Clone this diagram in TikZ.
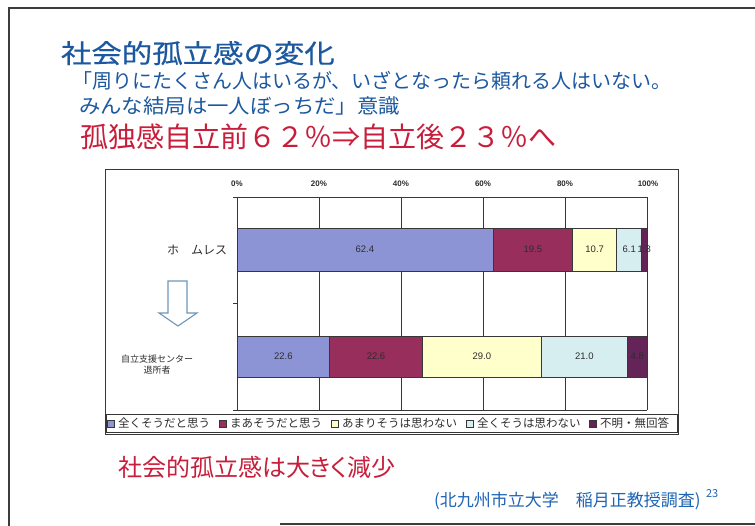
\documentclass[tikz,border=0pt]{standalone}
\usepackage{fontspec}
\setmainfont{Liberation Sans}
\newfontfamily\jp[RawFeature=+palt]{Noto Sans CJK JP}
\newfontfamily\jpfw{Noto Sans CJK JP}
\newfontfamily\jpwide[FakeStretch=1.07]{Noto Sans CJK JP}
\newfontfamily\jptitle[FakeStretch=1.17,FakeBold=0.4]{Noto Sans CJK JP}
\definecolor{tblue}{RGB}{28,88,160}
\definecolor{cblue}{RGB}{30,100,180}
\definecolor{tred}{RGB}{200,30,60}
\definecolor{cA}{RGB}{140,148,214}
\definecolor{cB}{RGB}{152,46,92}
\definecolor{cC}{RGB}{255,255,204}
\definecolor{cD}{RGB}{214,238,240}
\definecolor{cE}{RGB}{100,36,88}
\definecolor{gridc}{RGB}{55,55,55}
\definecolor{framec}{RGB}{60,60,60}
\definecolor{arrowc}{RGB}{110,150,185}
\definecolor{labc}{RGB}{45,45,45}
\tikzset{
  seg/.style={draw=gridc, line width=0.6pt},
  gridline/.style={draw=gridc, line width=0.7pt},
  vallab/.style={font=\fontsize{9.5}{10}\selectfont, text=labc},
  axlab/.style={font=\bfseries\fontsize{8}{9}\selectfont, text=labc},
  legsq/.style={draw=gridc, line width=0.5pt, minimum size=6.5pt, inner sep=0pt},
  legtext/.style={anchor=west, font=\jpfw\fontsize{11.5}{13}\selectfont, text=labc},
}
\begin{document}
\begin{tikzpicture}[x=1pt,y=-1pt, every node/.style={inner sep=0pt, outer sep=0pt}]
\useasboundingbox (0,0) rectangle (755,526);
\fill[white] (0,0) rectangle (755,526);
% slide frame
\draw[framec, line width=2pt] (9,526) -- (9,8) -- (755,8);
\draw[framec, line width=1.5pt] (280,524) -- (755,524);

% texts
\node[anchor=base west, text=tblue, font=\jptitle\fontsize{26}{30}\selectfont] (title) at (61,63) {社会的孤立感の変化};
\node[anchor=base west, text=tblue, font=\jpfw\fontsize{20}{24}\selectfont] (q1) at (72,89) {「周りにたくさん人はいるが、いざとなったら頼れる人はいない。};
\node[anchor=base west, text=tblue, font=\jpwide\fontsize{20}{24}\selectfont] (q2) at (79,114) {みんな結局は一人ぼっちだ」意識};
\node[anchor=base west, text=tred, font=\jpfw\fontsize{28}{32}\selectfont] (r1) at (80,148) {孤独感自立前６２％⇒自立後２３％へ};

% chart frame
\draw[gridline] (105,169) rectangle (678,434);
\draw[gridline] (106,414) rectangle (677,432);

% plot area
\foreach \x in {237,319,401,483,565,647} \draw[gridline] (\x,197) -- (\x,410);
\draw[gridline] (237,197) -- (647,197);
\draw[gridline] (237,410) -- (647,410);
\foreach \y in {197,303.5,410} \draw[gridline] (233,\y) -- (237,\y);
\foreach \x/\t [count=\i] in {237/0\%,319/20\%,401/40\%,483/60\%,565/80\%,648/100\%}
  \node[axlab] (ax\i) at (\x,184) {\t};

% bar 1
\fill[cA] (237,228) rectangle (492.84,271);
\fill[cB] (492.84,228) rectangle (572.79,271);
\fill[cC] (572.79,228) rectangle (616.66,271);
\fill[cD] (616.66,228) rectangle (641.67,271);
\fill[cE] (641.67,228) rectangle (647,271);
\foreach \a/\b in {237/492.84,492.84/572.79,572.79/616.66,616.66/641.67,641.67/647}
  \draw[seg] (\a,228) rectangle (\b,271);
\node[vallab] (v11) at (364.9,249.5) {62.4};
\node[vallab] (v12) at (532.8,249.5) {19.5};
\node[vallab] (v13) at (594.7,249.5) {10.7};
\node[vallab] (v14) at (629.2,249.5) {6.1};
\node[vallab] (v15) at (644.3,249.5) {1.3};

% bar 2
\fill[cA] (237,336) rectangle (329.66,377);
\fill[cB] (329.66,336) rectangle (422.32,377);
\fill[cC] (422.32,336) rectangle (541.22,377);
\fill[cD] (541.22,336) rectangle (627.32,377);
\fill[cE] (627.32,336) rectangle (647,377);
\foreach \a/\b in {237/329.66,329.66/422.32,422.32/541.22,541.22/627.32,627.32/647}
  \draw[seg] (\a,336) rectangle (\b,377);
\node[vallab] (v21) at (283.3,356.5) {22.6};
\node[vallab] (v22) at (376,356.5) {22.6};
\node[vallab] (v23) at (481.8,356.5) {29.0};
\node[vallab] (v24) at (584.3,356.5) {21.0};
\node[vallab] (v25) at (637.2,356.5) {4.8};

% category labels
\node[anchor=east, font=\jpfw\fontsize{12}{14}\selectfont, text=labc] (homeless) at (227,250) {ホ　ムレス};
\node[align=center, font=\jpfw\fontsize{9}{11.5}\selectfont, text=labc] (center) at (157,364.5) {自立支援センター\\退所者};

% down arrow
\draw[arrowc, line width=1.1pt, fill=white, line join=miter]
  (168,281) -- (187,281) -- (187,313) -- (197,313) -- (178,326) -- (159,313) -- (168,313) -- cycle;

% legend
\node[legsq, fill=cA] (s1) at (110.5,423.5) {};
\node[legtext] (l1) at (118,423.5) {全くそうだと思う};
\node[legsq, fill=cB] (s2) at (222.5,423.5) {};
\node[legtext] (l2) at (230,423.5) {まあそうだと思う};
\node[legsq, fill=cC] (s3) at (334.5,423.5) {};
\node[legtext] (l3) at (342,423.5) {あまりそうは思わない};
\node[legsq, fill=cD] (s4) at (469.5,423.5) {};
\node[legtext] (l4) at (477,423.5) {全くそうは思わない};
\node[legsq, fill=cE] (s5) at (592.5,423.5) {};
\node[legtext] (l5) at (600,423.5) {不明・無回答};

% bottom texts
\node[anchor=base west, text=tred, font=\jp\fontsize{24}{28}\selectfont] (concl) at (118,476) {社会的孤立感は大きく減少};
\node[anchor=base west, text=cblue, font=\jpfw\fontsize{17}{19}\selectfont] (cite) at (434,506) {(北九州市立大学　稲月正教授調査)};
\node[anchor=base west, text=cblue, font=\jp\fontsize{11}{13}\selectfont] (pgno) at (706,497) {23};
\end{tikzpicture}
\end{document}
